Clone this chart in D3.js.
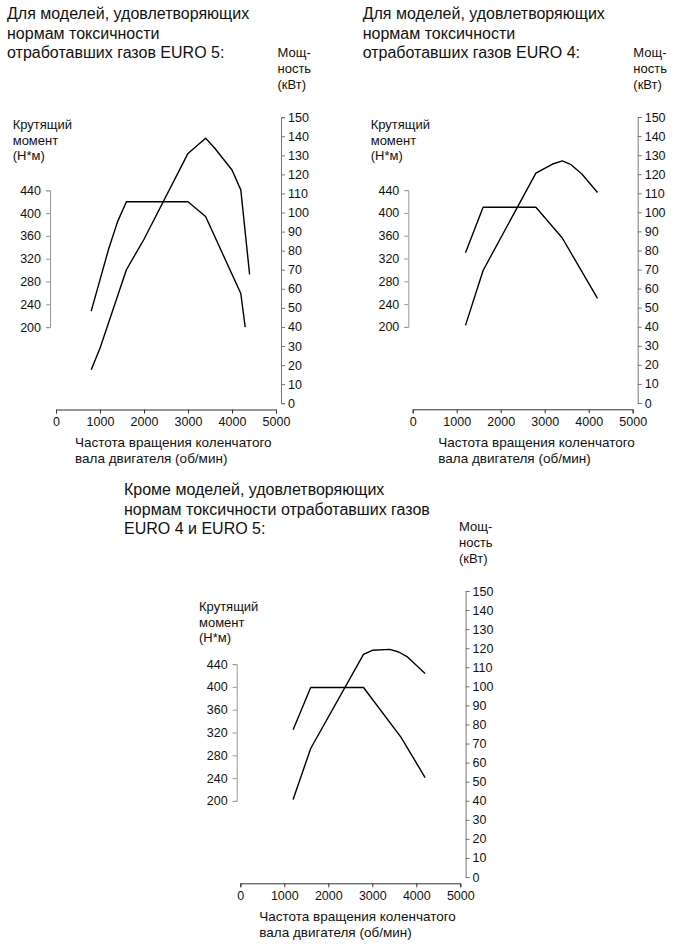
<!DOCTYPE html>
<html><head><meta charset="utf-8">
<script src="https://cdn.jsdelivr.net/npm/d3@7"></script>
<style>
body{margin:0;background:#fff}
svg{display:block}
text{font-family:"Liberation Sans",Arial,sans-serif;fill:#111}
</style>
</head><body>
<svg id="c" width="690" height="952"></svg>
<script>
// ---- data ----
const rpmTicks = [0, 1000, 2000, 3000, 4000, 5000];
const torqueTicks = [200, 240, 280, 320, 360, 400, 440];
const powerTicks = [0, 10, 20, 30, 40, 50, 60, 70, 80, 90, 100, 110, 120, 130, 140, 150];

// EURO 5
const euro5TorqueRpm = [800, 1200, 1400, 1600, 3000, 3400, 4200, 4300];
const euro5Torque    = [228, 338, 385, 420, 420, 394, 259, 200];
const euro5PowerRpm  = [800, 1000, 1600, 2000, 3000, 3400, 3600, 4000, 4200, 4400];
const euro5Power     = [17.5, 28.8, 70, 86, 131, 139, 134, 122.3, 111.9, 67.6];

// EURO 4
const euro4TorqueRpm = [1200, 1600, 2800, 3400, 4200];
const euro4Torque    = [330, 410, 410, 356, 250];
const euro4PowerRpm  = [1200, 1600, 2800, 3000, 3200, 3400, 3600, 3850, 4200];
const euro4Power     = [40.7, 69.5, 120.6, 123, 125.5, 127, 125, 120, 110.4];

// other models
const otherTorqueRpm = [1200, 1600, 2800, 3650, 4200];
const otherTorque    = [325, 399, 399, 312, 241];
const otherPowerRpm  = [1200, 1600, 2800, 3000, 3400, 3600, 3800, 4200];
const otherPower     = [40.7, 67.4, 116.8, 118.9, 119.4, 118, 115.4, 106.7];

// texts
const title5 = ["Для моделей, удовлетворяющих", "нормам токсичности", "отработавших газов EURO 5:"];
const title4 = ["Для моделей, удовлетворяющих", "нормам токсичности", "отработавших газов EURO 4:"];
const titleOther = ["Кроме моделей, удовлетворяющих", "нормам токсичности отработавших газов", "EURO 4 и EURO 5:"];
const torqueLabel = ["Крутящий", "момент", "(Н*м)"];
const powerLabel = ["Мощ-", "ность", "(кВт)"];
const xLabel = ["Частота вращения коленчатого", "вала двигателя (об/мин)"];

// ---- layout ----
const panels = [
  {x0: 56, axisY: 409.5, leftOff: -6, rightOff: 225,
   title: title5, titleX: 7, titleY: 19.3,
   tqX: 12.7, tqY: 129, pwX: 277.5, pwY: 56.7, xlX: 75, xlY: 446.5,
   tq: [euro5TorqueRpm, euro5Torque], pw: [euro5PowerRpm, euro5Power]},
  {x0: 412.7, axisY: 409.3, leftOff: -4.4, rightOff: 225,
   title: title4, titleX: 362.7, titleY: 19.3,
   tqX: 370.7, tqY: 129, pwX: 633.3, pwY: 56.7, xlX: 438.3, xlY: 446.5,
   tq: [euro4TorqueRpm, euro4Torque], pw: [euro4PowerRpm, euro4Power]},
  {x0: 240.3, axisY: 883.3, leftOff: -3.6, rightOff: 225.3,
   title: titleOther, titleX: 124, titleY: 495,
   tqX: 199, tqY: 611, pwX: 459, pwY: 531, xlX: 259.3, xlY: 920.7,
   tq: [otherTorqueRpm, otherTorque], pw: [otherPowerRpm, otherPower]}
];

const svg = d3.select("#c");

function lines(g, arr, x, y, lh, size) {
  arr.forEach((t, i) => {
    g.append("text").attr("x", x).attr("y", y + i * lh)
      .attr("font-size", size).text(t);
  });
}

panels.forEach(p => {
  const g = svg.append("g");
  const x = d3.scaleLinear().domain([0, 5000]).range([p.x0, p.x0 + 220]);
  const yT = d3.scaleLinear().domain([200, 440]).range([p.axisY - 82.4, p.axisY - 219.2]);
  const yP = d3.scaleLinear().domain([0, 150]).range([p.axisY - 6.3, p.axisY - 292.3]);

  const styleAxis = (sel, col) => {
    sel.attr("font-family", '"Liberation Sans",Arial,sans-serif').attr("font-size", 12.5);
    sel.selectAll("path,line").attr("stroke", col).attr("stroke-width", 1);
    sel.selectAll("text").attr("fill", "#111");
  };

  g.append("g").attr("transform", `translate(0,${p.axisY})`)
    .call(d3.axisBottom(x).tickValues(rpmTicks).tickFormat(d3.format("d")).tickSize(4).tickPadding(4))
    .call(s => styleAxis(s, "#333"));

  g.append("g").attr("transform", `translate(${p.x0 + p.leftOff},0)`)
    .call(d3.axisLeft(yT).tickValues(torqueTicks).tickFormat(d3.format("d")).tickSize(4).tickPadding(5))
    .call(s => styleAxis(s, "#999"));

  g.append("g").attr("transform", `translate(${p.x0 + p.rightOff},0)`)
    .call(d3.axisRight(yP).tickValues(powerTicks).tickFormat(d3.format("d")).tickSize(4).tickPadding(3))
    .call(s => styleAxis(s, "#777"));

  const lt = d3.line().x(d => x(d[0])).y(d => yT(d[1]));
  const lp = d3.line().x(d => x(d[0])).y(d => yP(d[1]));
  g.append("path").datum(d3.zip(p.tq[0], p.tq[1])).attr("d", lt)
    .attr("fill", "none").attr("stroke", "#000").attr("stroke-width", 1.4).attr("stroke-linejoin", "round");
  g.append("path").datum(d3.zip(p.pw[0], p.pw[1])).attr("d", lp)
    .attr("fill", "none").attr("stroke", "#000").attr("stroke-width", 1.4).attr("stroke-linejoin", "round");

  lines(g, p.title, p.titleX, p.titleY, 19.5, 16);
  lines(g, torqueLabel, p.tqX, p.tqY, 15.5, 13);
  lines(g, powerLabel, p.pwX, p.pwY, 16, 13);
  lines(g, xLabel, p.xlX, p.xlY, 16, 13.5);
});
</script>
</body></html>
